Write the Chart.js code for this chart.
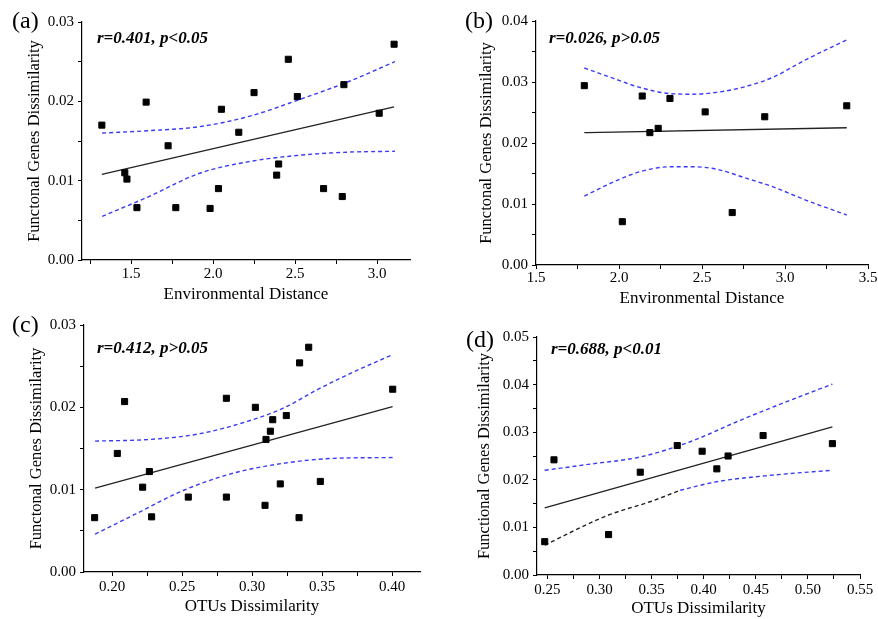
<!DOCTYPE html>
<html lang="en">
<head>
<meta charset="UTF-8">
<title>Functional genes dissimilarity</title>
<script src="https://cdn.jsdelivr.net/npm/chart.js"></script>
<style>
    html, body {
        margin: 0;
        padding: 0;
        width: 878px;
        height: 619px;
        overflow: hidden;
        background: #fff;
    }
    .panel {
        position: absolute;
    }
    .tag {
        position: absolute;
        font-family: "Liberation Serif", "Times New Roman", serif;
        line-height: 1;
        color: #000;
        white-space: nowrap;
    }
    .letter {
        font-size: 24px;
    }
    .stat {
        font-size: 17px;
        font-weight: bold;
        font-style: italic;
    }
</style>
</head>
<body>
    <div class="panel" style="left:0px;top:0px"><canvas id="chartA" width="439" height="309"></canvas></div>
    <div class="panel" style="left:439px;top:0px"><canvas id="chartB" width="450" height="309"></canvas></div>
    <div class="panel" style="left:0px;top:309px"><canvas id="chartC" width="439" height="310"></canvas></div>
    <div class="panel" style="left:439px;top:309px"><canvas id="chartD" width="450" height="310"></canvas></div>

    <div class="tag letter" style="left:12px;top:8px">(a)</div>
    <div class="tag letter" style="left:465px;top:8px">(b)</div>
    <div class="tag letter" style="left:12px;top:312px">(c)</div>
    <div class="tag letter" style="left:466px;top:327px">(d)</div>

    <div class="tag stat" style="left:97px;top:29px">r=0.401, p&lt;0.05</div>
    <div class="tag stat" style="left:549px;top:29px">r=0.026, p&gt;0.05</div>
    <div class="tag stat" style="left:97px;top:339px">r=0.412, p&gt;0.05</div>
    <div class="tag stat" style="left:551px;top:340px">r=0.688, p&lt;0.01</div>

<script>
    // (a) functional genes vs environmental distance
    const aEnv  = [1.321, 1.591, 1.461, 1.474, 1.535, 1.725, 1.772, 1.981, 2.032, 2.050, 2.156,
                   2.249, 2.387, 2.399, 2.458, 2.513, 2.673, 2.787, 2.797, 3.012, 3.103]
    const aGene = [0.0170, 0.0199, 0.0110, 0.0102, 0.0066, 0.0144, 0.0066, 0.0065, 0.0090, 0.0190, 0.0161,
                   0.0211, 0.0107, 0.0121, 0.0253, 0.0206, 0.0090, 0.0080, 0.0221, 0.0185, 0.0272]
    const aFitX = [1.321, 3.103]
    const aFitY = [0.0108, 0.0193]
    const aBandX = [1.323, 1.608, 1.913, 2.218, 2.523, 2.827, 3.108]
    const aUpper = [0.0160, 0.0163, 0.0168, 0.0181, 0.0202, 0.0225, 0.0250]
    const aLower = [0.0055, 0.0080, 0.0109, 0.0124, 0.0132, 0.0136, 0.0137]

    // (b)
    const bEnv  = [1.791, 2.020, 2.140, 2.186, 2.236, 2.307, 2.519, 2.682, 2.878, 3.372]
    const bGene = [0.0294, 0.0071, 0.0277, 0.0217, 0.0224, 0.0273, 0.0251, 0.0086, 0.0243, 0.0261]
    const bFitX = [1.791, 3.372]
    const bFitY = [0.0217, 0.0225]
    const bBandX = [1.791, 1.966, 2.127, 2.307, 2.447, 2.588, 2.769, 2.929, 3.129, 3.372]
    const bUpper = [0.0323, 0.0306, 0.0291, 0.0281, 0.0280, 0.0283, 0.0293, 0.0308, 0.0337, 0.0369]
    const bLower = [0.0113, 0.0136, 0.0153, 0.0161, 0.0161, 0.0157, 0.0142, 0.0128, 0.0106, 0.0082]

    // (c) functional genes vs OTUs dissimilarity
    const cOtu  = [0.1876, 0.2038, 0.2090, 0.2219, 0.2267, 0.2283, 0.2545, 0.2817, 0.2817, 0.3024, 0.3093,
                   0.3100, 0.3131, 0.3148, 0.3202, 0.3245, 0.3336, 0.3340, 0.3405, 0.3488, 0.4005]
    const cGene = [0.0066, 0.0144, 0.0207, 0.0103, 0.0122, 0.0067, 0.0091, 0.0211, 0.0091, 0.0200, 0.0081,
                   0.0161, 0.0171, 0.0185, 0.0107, 0.0190, 0.0066, 0.0254, 0.0273, 0.0110, 0.0222]
    const cFitX = [0.1879, 0.4004]
    const cFitY = [0.0102, 0.0201]
    const cUpX   = [0.1879, 0.2271, 0.2629, 0.2986, 0.3224, 0.3461, 0.3700, 0.4004]
    const cUpper = [0.0159, 0.0161, 0.0168, 0.0184, 0.0199, 0.0221, 0.0241, 0.0264]
    const cLoX   = [0.1879, 0.2152, 0.2509, 0.2866, 0.3224, 0.3581, 0.4004]
    const cLower = [0.0046, 0.0069, 0.0099, 0.0120, 0.0132, 0.0138, 0.0139]

    // (d)
    const dOtu  = [0.2474, 0.2563, 0.3087, 0.3391, 0.3746, 0.3985, 0.4126, 0.4234, 0.4570, 0.5235]
    const dGene = [0.0070, 0.0242, 0.0085, 0.0216, 0.0272, 0.0260, 0.0223, 0.0250, 0.0293, 0.0276]
    const dFitX = [0.2474, 0.5235]
    const dFitY = [0.0141, 0.0311]
    const dUpX  = [0.2474, 0.2911, 0.3391, 0.3870, 0.4350, 0.4829, 0.5235]
    const dUpper = [0.0220, 0.0233, 0.0248, 0.0280, 0.0325, 0.0367, 0.0401]
    // lower band: first part drawn black, rest blue
    const dLoBlackX = [0.2474, 0.3087, 0.3500, 0.3774]
    const dLoBlack  = [0.0063, 0.0126, 0.0155, 0.0178]
    const dLoBlueX  = [0.3774, 0.4126, 0.4669, 0.5235]
    const dLoBlue   = [0.0178, 0.0196, 0.0210, 0.0220]

    const serif = '"Liberation Serif", "Times New Roman", serif'
    const blue = '#3b3bf5'

    function pts(xs, ys) {
        return xs.map((x, i) => ({ x: x, y: ys[i] }))
    }

    function majorOnly(major, digits) {
        return function (v) {
            const k = Math.round(v / major)
            return Math.abs(k * major - v) < 1e-9 ? v.toFixed(digits) : ''
        }
    }

    // ticks on every multiple of step inside the axis range
    function stepTicks(step) {
        return function (s) {
            const t = []
            for (let k = Math.ceil(s.min / step - 1e-9); k * step <= s.max + 1e-9; k++) {
                t.push({ value: +(k * step).toFixed(6) })
            }
            s.ticks = t
        }
    }

    function scatterSet(xs, ys) {
        return {
            data: pts(xs, ys),
            pointStyle: 'rect',
            pointRadius: 4.3,
            pointBackgroundColor: '#000',
            pointBorderColor: '#000',
            pointBorderWidth: 1,
            showLine: false
        }
    }

    function lineSet(xs, ys, color, dashed) {
        return {
            data: pts(xs, ys),
            showLine: true,
            pointRadius: 0,
            borderColor: color,
            borderWidth: dashed ? 1.4 : 1.3,
            borderDash: dashed ? [4, 3] : [],
            cubicInterpolationMode: 'monotone',
            fill: false
        }
    }

    function makeChart(id, sets, opt) {
        const ctx = document.getElementById(id).getContext('2d')
        return new Chart(ctx, {
            type: 'scatter',
            data: { datasets: sets },
            options: {
                responsive: false,
                animation: false,
                layout: { padding: opt.pad },
                plugins: {
                    legend: { display: false },
                    tooltip: { enabled: false }
                },
                scales: {
                    x: {
                        type: 'linear',
                        min: opt.x[0], max: opt.x[1],
                        afterFit: (s) => { s.height = opt.xH },
                        afterBuildTicks: stepTicks(opt.x[2]),
                        border: { display: true, color: '#000', width: 1.2 },
                        grid: { drawOnChartArea: false, drawTicks: true, tickLength: 4, color: '#000' },
                        ticks: {
                            autoSkip: false,
                            maxRotation: 0,
                            padding: opt.xPad,
                            color: '#000',
                            font: { family: serif, size: 15 },
                            callback: majorOnly(opt.x[3], opt.x[4])
                        },
                        title: {
                            display: true,
                            text: opt.xTitle,
                            color: '#000',
                            padding: { top: 0, bottom: opt.tPad },
                            font: { family: serif, size: 17 }
                        }
                    },
                    y: {
                        type: 'linear',
                        min: 0, max: opt.y[1],
                        afterFit: (s) => { s.width = opt.yW },
                        afterBuildTicks: stepTicks(opt.y[2]),
                        border: { display: true, color: '#000', width: 1.2 },
                        grid: { drawOnChartArea: false, drawTicks: true, tickLength: 4, color: '#000' },
                        ticks: {
                            autoSkip: false,
                            padding: 4,
                            color: '#000',
                            font: { family: serif, size: 15 },
                            callback: majorOnly(opt.y[3], 2)
                        },
                        title: {
                            display: true,
                            text: opt.yTitle,
                            color: '#000',
                            font: { family: serif, size: 16.5 }
                        }
                    }
                }
            }
        })
    }

    makeChart('chartA', [
        scatterSet(aEnv, aGene),
        lineSet(aFitX, aFitY, '#222', false),
        lineSet(aBandX, aUpper, blue, true),
        lineSet(aBandX, aLower, blue, true)
    ], {
        pad: { left: 21, top: 22, right: 29, bottom: 0 },
        yW: 61, xH: 49, xPad: 1, tPad: 4,
        x: [1.2, 3.2, 0.25, 0.5, 1],
        y: [0, 0.03, 0.005, 0.01],
        xTitle: 'Environmental Distance',
        yTitle: 'Functonal Genes Dissimilarity'
    })

    makeChart('chartB', [
        scatterSet(bEnv, bGene),
        lineSet(bFitX, bFitY, '#222', false),
        lineSet(bBandX, bUpper, blue, true),
        lineSet(bBandX, bLower, blue, true)
    ], {
        pad: { left: 34, top: 21, right: 21, bottom: 0 },
        yW: 63, xH: 44, xPad: 0, tPad: 0,
        x: [1.5, 3.5, 0.25, 0.5, 1],
        y: [0, 0.04, 0.005, 0.01],
        xTitle: 'Environmental Distance',
        yTitle: 'Functonal Genes Dissimilarity'
    })

    makeChart('chartC', [
        scatterSet(cOtu, cGene),
        lineSet(cFitX, cFitY, '#222', false),
        lineSet(cUpX, cUpper, blue, true),
        lineSet(cLoX, cLower, blue, true)
    ], {
        pad: { left: 23, top: 16, right: 19, bottom: 0 },
        yW: 61, xH: 47, xPad: 2, tPad: 2,
        x: [0.18, 0.42, 0.025, 0.05, 2],
        y: [0, 0.03, 0.005, 0.01],
        xTitle: 'OTUs Dissimilarity',
        yTitle: 'Functonal Genes Dissimilarity'
    })

    makeChart('chartD', [
        scatterSet(dOtu, dGene),
        lineSet(dFitX, dFitY, '#222', false),
        lineSet(dUpX, dUpper, blue, true),
        lineSet(dLoBlackX, dLoBlack, '#222', true),
        lineSet(dLoBlueX, dLoBlue, blue, true)
    ], {
        pad: { left: 32, top: 28, right: 29, bottom: 0 },
        yW: 66, xH: 44, xPad: 2, tPad: 0,
        x: [0.24, 0.55, 0.025, 0.05, 2],
        y: [0, 0.05, 0.005, 0.01],
        xTitle: 'OTUs Dissimilarity',
        yTitle: 'Functional Genes Dissimilarity'
    })
</script>
</body>
</html>
